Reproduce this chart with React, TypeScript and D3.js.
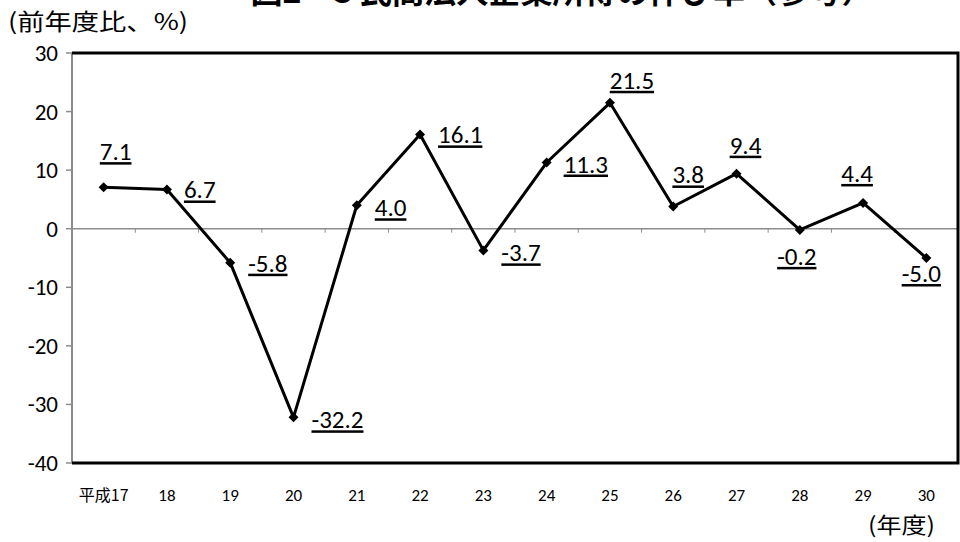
import React from "react";
import * as d3 from "d3";

const categories = ["平成17", "18", "19", "20", "21", "22", "23", "24", "25", "26", "27", "28", "29", "30"];
const values = [7.1, 6.7, -5.8, -32.2, 4.0, 16.1, -3.7, 11.3, 21.5, 3.8, 9.4, -0.2, 4.4, -5.0];
const yTicks = [30, 20, 10, 0, -10, -20, -30, -40];

// label layout (anchor, dx, dy) relative to each point
const labelLayout: [string, number, number][] = [
  ["middle", 12, -27], ["start", 17, 9], ["start", 18, 9], ["start", 18, 11],
  ["start", 18, 11], ["start", 18, 9], ["start", 18, 11], ["start", 17, 10],
  ["middle", 22, -14], ["middle", 15, -23], ["middle", 9, -20], ["middle", -3, 35],
  ["middle", -6, -21], ["middle", -5, 24],
];

const title = "図2－3 民間法人企業所得の伸び率（参考）";
const yTitle = "(前年度比、%)";
const xTitle = "(年度)";

const W = 960, H = 542;
const L = 72, R = 958, T = 53, B = 463;
const numFont = "Carlito, Calibri, Lato, 'Open Sans', sans-serif";
const jpFont = "'Noto Sans CJK JP', sans-serif";

export default function App() {
  const x = d3.scaleBand<string>().domain(categories).range([L, R]);
  const y = d3.scaleLinear().domain([-40, 30]).range([B, T]);
  const cx = (i: number) => (x(categories[i]) as number) + x.bandwidth() / 2;
  const line = d3.line<number>().x((_, i) => cx(i)).y((d) => y(d));
  const marker = d3.symbol().type(d3.symbolSquare).size(50)();
  const bounds = categories.map((c) => x(c) as number).concat([R]);

  return (
    <svg width={W} height={H} style={{ position: "absolute", left: 0, top: 0, background: "#fff" }}>
      <text x={562} y={3} textAnchor="middle" fontFamily={jpFont} fontWeight="bold" fontSize={32} textLength={623} lengthAdjust="spacingAndGlyphs" fill="#000">{title}</text>
      <text x={8} y={30} fontFamily={jpFont} fontSize={23} textLength={180} lengthAdjust="spacingAndGlyphs" fill="#000">{yTitle}</text>

      {/* zero line */}
      <line x1={L} x2={R} y1={y(0)} y2={y(0)} stroke="#8c8c8c" strokeWidth={1.5} />
      {bounds.map((b, i) => (
        <line key={"xt" + i} x1={b} x2={b} y1={y(0)} y2={y(0) + 4} stroke="#8c8c8c" strokeWidth={1} />
      ))}

      {/* y axis */}
      <line x1={L} x2={L} y1={T} y2={B} stroke="#8c8c8c" strokeWidth={2} />
      {yTicks.map((t) => (
        <g key={t}>
          <line x1={L - 6} x2={L} y1={y(t)} y2={y(t)} stroke="#8c8c8c" strokeWidth={1.5} />
          <text x={L - 14} y={y(t) + 8} textAnchor="end" fontFamily={numFont} fontSize={23} fill="#000">{t}</text>
        </g>
      ))}

      {/* frame */}
      <path d={`M${L},${T}H${R}V${B}H${L}`} fill="none" stroke="#000" strokeWidth={3} />

      {/* x labels */}
      {categories.map((c, i) => (
        <text key={c} x={cx(i)} y={501} textAnchor="middle" fontFamily={i === 0 ? jpFont : numFont} fontSize={i === 0 ? 16 : 17} fill="#000">{c}</text>
      ))}
      <text x={868} y={533} fontFamily={jpFont} fontSize={22} textLength={67} lengthAdjust="spacingAndGlyphs" fill="#000">{xTitle}</text>

      {/* series */}
      <path d={line(values) || ""} fill="none" stroke="#000" strokeWidth={3} strokeLinejoin="round" />
      {values.map((v, i) => (
        <path key={"m" + i} d={marker || ""} transform={`translate(${cx(i)},${y(v)}) rotate(45)`} fill="#000" />
      ))}

      {values.map((v, i) => {
        const [anchor, dx, dy] = labelLayout[i];
        return (
          <text key={"l" + i} x={cx(i) + dx} y={y(v) + dy} textAnchor={anchor} fontFamily={numFont} fontSize={25} fill="#000" textDecoration="underline">{v.toFixed(1)}</text>
        );
      })}
    </svg>
  );
}
